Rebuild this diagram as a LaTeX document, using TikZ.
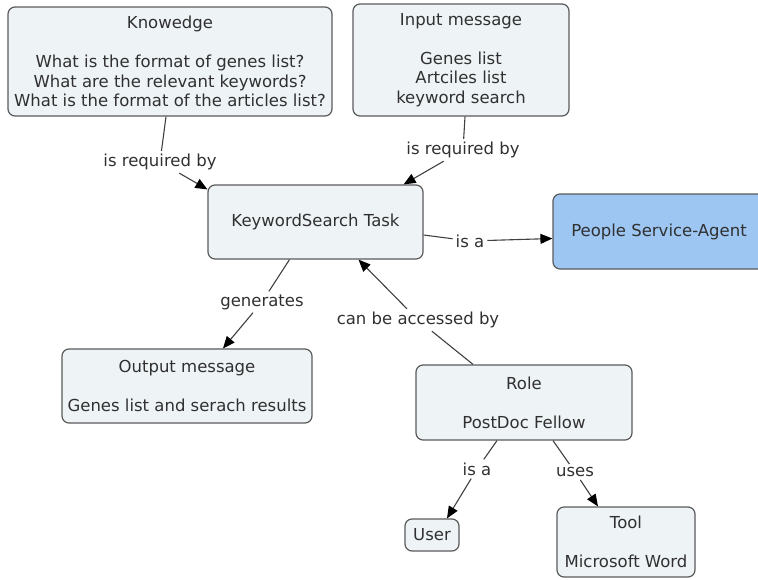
\documentclass[tikz,border=0pt]{standalone}
\usepackage{fontspec}
\setmainfont{DejaVu Sans}
\usetikzlibrary{arrows.meta}
\definecolor{boxfill}{HTML}{EEF3F6}
\definecolor{boxdraw}{HTML}{5A5A5A}
\definecolor{bluefill}{HTML}{9DC6F3}
\definecolor{txt}{HTML}{303030}
\definecolor{linec}{HTML}{404040}
\begin{document}
\begin{tikzpicture}[x=1pt,y=-1pt,
  concept/.style={draw=boxdraw, line width=1.2pt, fill=boxfill, rounded corners=7pt,
    align=center, text=txt, inner sep=0pt, font=\fontsize{16.5}{19.5}\selectfont},
  lbl/.style={text=txt, inner sep=3pt, font=\fontsize{16.5}{19.5}\selectfont},
  con/.style={draw=linec, line width=1.1pt},
  arr/.style={con, -{Triangle[length=12pt,width=10pt,color=black]}},
]
\useasboundingbox[clip] (0,0) rectangle (758,579);

\node[concept, minimum width=324pt, minimum height=109pt] (kn) at (170,61.5)
  {Knowedge\\[19.5pt]What is the format of genes list?\\What are the relevant keywords?\\What is the format of the articles list?};
\node[concept, minimum width=216pt, minimum height=112pt] (in) at (461,60)
  {Input message\\[19.5pt]Genes list\\Artciles list\\keyword search};
\node[concept, minimum width=215pt, minimum height=74pt] (kst) at (315.5,222) {KeywordSearch Task};
\node[concept, fill=bluefill, minimum width=212pt, minimum height=75pt] (psa) at (659,231.5) {People Service-Agent};
\node[concept, minimum width=250pt, minimum height=74pt] (out) at (187,386)
  {Output message\\[19.5pt]Genes list and serach results};
\node[concept, minimum width=216pt, minimum height=75pt] (role) at (524,402.5)
  {Role\\[19.5pt]PostDoc Fellow};
\node[concept, minimum width=54pt, minimum height=32pt] (user) at (432,535) {User};
\node[concept, minimum width=138pt, minimum height=70pt] (tool) at (626,542)
  {Tool\\[19.5pt]Microsoft Word};

\node[lbl] (l1) at (160,162) {is required by};
\node[lbl] (l2) at (463,150) {is required by};
\node[lbl] (l3) at (470,241) {is a};
\node[lbl] (l4) at (262,302) {generates};
\node[lbl] (l5) at (418,320) {can be accessed by};
\node[lbl] (l6) at (477,469) {is a};
\node[lbl] (l7) at (575,472) {uses};

\draw[con] ([xshift=-4pt]kn.south) -- (l1);
\draw[arr] (l1) -- ([yshift=-5pt]kst.north west);
\draw[con] ([xshift=4pt]in.south) -- (l2);
\draw[arr] (l2) -- ([xshift=-20pt]kst.north east);
\draw[con] ([yshift=-13pt]kst.east) -- (l3);
\draw[arr] (l3) -- ([yshift=-7pt]psa.west);
\draw[con] ([xshift=-26pt]kst.south) -- (l4);
\draw[arr] (l4) -- ([xshift=36pt]out.north);
\draw[con] ([xshift=-51pt]role.north) -- (l5);
\draw[arr] (l5) -- ([xshift=43pt]kst.south);
\draw[con] ([xshift=-27pt]role.south) -- (l6);
\draw[arr] (l6) -- ([xshift=15pt]user.north);
\draw[con] ([xshift=29pt]role.south) -- (l7);
\draw[arr] (l7) -- ([xshift=-28pt]tool.north);
\end{tikzpicture}
\end{document}
